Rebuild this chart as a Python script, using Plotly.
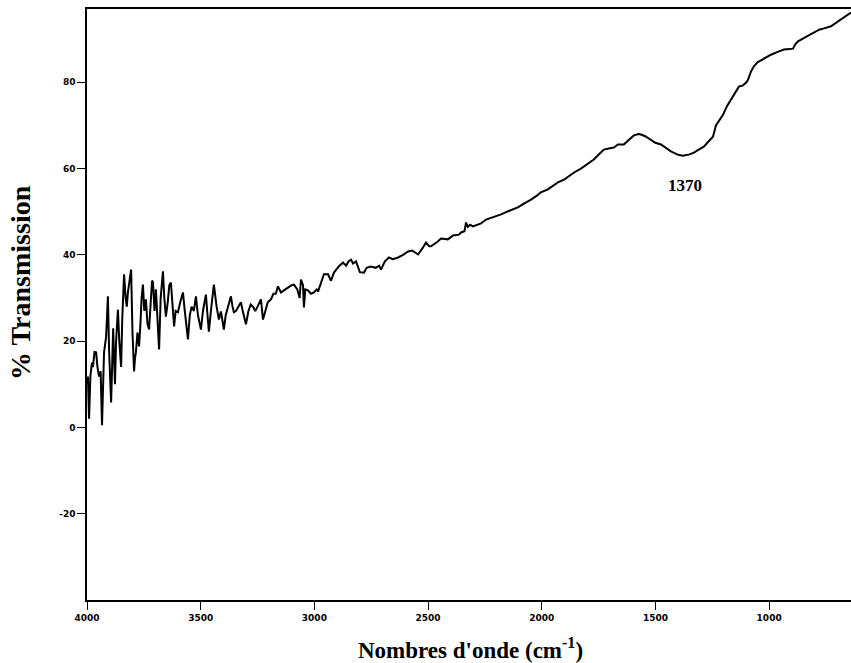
import plotly.graph_objects as go

wavenumber = [4000, 3996, 3991, 3985, 3978, 3974, 3967, 3960, 3954, 3947, 3940, 3934, 3928, 3925,
              3916, 3912, 3908, 3903, 3899, 3894, 3889, 3885, 3881, 3877, 3872, 3868, 3864, 3858,
              3854, 3850, 3845, 3841, 3837, 3830, 3825, 3820, 3813, 3806, 3800, 3793, 3789, 3785,
              3778, 3771, 3765, 3760, 3754, 3748, 3741, 3734, 3727, 3720, 3714, 3710, 3703, 3697,
              3690, 3683, 3676, 3666, 3660, 3653, 3645, 3638, 3631, 3624, 3617, 3610, 3600, 3590,
              3578, 3570, 3563, 3556, 3548, 3540, 3530, 3521, 3512, 3505, 3499, 3490, 3477, 3470,
              3464, 3455, 3442, 3430, 3420, 3411, 3398, 3390, 3380, 3367, 3360, 3354, 3345, 3335,
              3323, 3315, 3310, 3301, 3290, 3280, 3270, 3260, 3250, 3242, 3235, 3226, 3215, 3205,
              3191, 3180, 3170, 3160, 3147, 3130, 3116, 3100, 3090, 3075, 3065, 3059, 3050, 3046,
              3040, 3028, 3015, 3002, 2990, 2984, 2971, 2958, 2940, 2927, 2914, 2900, 2890, 2874,
              2860, 2850, 2839, 2830, 2817, 2800, 2782, 2770, 2751, 2730, 2715, 2707, 2690, 2672,
              2655, 2632, 2610, 2588, 2570, 2555, 2544, 2525, 2509, 2495, 2487, 2460, 2443, 2413,
              2390, 2364, 2355, 2340, 2333, 2325, 2315, 2303, 2280, 2267, 2245, 2210, 2179, 2140,
              2105, 2075, 2047, 2020, 2004, 1973, 1950, 1929, 1900, 1858, 1828, 1800, 1771, 1745,
              1727, 1700, 1683, 1665, 1639, 1620, 1595, 1575, 1564, 1545, 1520, 1500, 1476, 1450,
              1432, 1400, 1379, 1350, 1331, 1310, 1287, 1265, 1247, 1234, 1215, 1203, 1185, 1168,
              1150, 1133, 1115, 1100, 1093, 1080, 1067, 1050, 1036, 1010, 992, 965, 935, 910,
              895, 885, 873, 840, 803, 780, 759, 740, 728, 700, 675, 655, 640]

transmission = [10, 11.8, 2, 12, 15, 14, 17.5, 17.4, 14, 11.8, 13, 0.5, 12, 17.4,
                21, 25, 30.4, 18, 12, 5.8, 15, 23, 16.5, 10, 20, 25, 27.3, 20,
                17, 14, 25, 33, 35.5, 30, 28, 31.3, 34, 36.6, 22, 13, 16, 17.4,
                22, 18.8, 24, 30, 33.1, 27, 29.7, 24, 22.7, 28, 34, 33.8, 27, 32,
                24, 18.1, 30, 36.2, 30, 25.7, 29, 33, 33.6, 27, 23.4, 27, 26.7, 29,
                31.3, 27, 24, 20.4, 26, 28, 27, 30.4, 26, 24, 22.7, 27, 30.8, 26,
                22.2, 27, 33.1, 28, 25, 26.9, 22.7, 26, 28, 30.4, 28, 26.7, 27, 28,
                29, 27, 26, 23.9, 27, 28.5, 28, 27, 28, 29, 29.7, 25, 27, 29,
                29.7, 31, 31, 32.7, 31.3, 31.8, 32.4, 33, 33.1, 32, 30, 34.3, 33, 27.8,
                32, 31.8, 31, 31.3, 32, 31.5, 33.6, 35.5, 35.5, 34, 35.9, 37, 37.5, 38.2,
                37.5, 38.5, 38.9, 38, 38.5, 36, 35.9, 37, 37.3, 37, 37.5, 36.6, 38.5, 39.4,
                39, 39.4, 40, 40.8, 41, 40.5, 40.1, 41.5, 42.9, 42, 42, 43, 43.8, 43.6,
                44.5, 44.7, 45.2, 45.5, 47.5, 46.5, 47, 46.6, 47, 47.3, 48.2, 48.8, 49.4, 50.3,
                51, 52, 52.8, 53.8, 54.5, 55.2, 56, 56.8, 57.5, 59.1, 60, 61, 62.1, 63.5,
                64.4, 64.7, 64.9, 65.6, 65.6, 66.5, 67.7, 68, 67.9, 67.5, 66.7, 66, 65.6, 64.6,
                64, 63.2, 63, 63.3, 63.7, 64.4, 65.1, 66.4, 67.4, 70, 71.5, 72.5, 74.5, 76,
                77.8, 79, 79.3, 80, 80.6, 82.5, 83.7, 84.7, 85.1, 85.9, 86.4, 87, 87.6, 87.7,
                87.8, 88.8, 89.5, 90.5, 91.5, 92.2, 92.5, 92.7, 93, 94, 95, 95.6, 96.2]

x_ticks = [4000, 3500, 3000, 2500, 2000, 1500, 1000]
x_tick_labels = ["4000", "3500", "3000", "2500", "2000", "1500", "1000"]
y_ticks = [-20, 0, 20, 40, 60, 80]
y_tick_labels = ["-20", "0", "20", "40", "60", "80"]

peak_label = "1370"
peak_x = 1370
peak_y = 56

fig = go.Figure()
fig.add_trace(go.Scatter(x=wavenumber, y=transmission, mode="lines",
                         line=dict(color="black", width=2), showlegend=False,
                         hoverinfo="skip"))

fig.add_annotation(x=peak_x, y=peak_y, text=peak_label, showarrow=False,
                   xanchor="center", yanchor="middle",
                   font=dict(family="Liberation Serif", size=17, color="black", weight="bold"))

fig.add_annotation(xref="paper", yref="paper", x=(470 - 87) / 764, y=-(648 - 600) / 591,
                   xanchor="center", yanchor="middle",
                   text="Nombres d'onde (cm<sup>-1</sup>)", showarrow=False,
                   font=dict(family="Liberation Serif", size=23, color="black", weight="bold"))
fig.add_annotation(xref="paper", yref="paper", x=-(87 - 20) / 764, y=(600 - 283) / 591,
                   xanchor="center", yanchor="middle",
                   text="% Transmission", showarrow=False, textangle=-90,
                   font=dict(family="Liberation Serif", size=28, color="black", weight="bold"))

fig.update_layout(
    width=851, height=663,
    margin=dict(l=87, r=0, t=9, b=63),
    paper_bgcolor="white", plot_bgcolor="white",
    xaxis=dict(range=[4000, 640], tickvals=x_ticks, ticktext=x_tick_labels,
               showgrid=False, zeroline=False, showline=True, linecolor="black", linewidth=1.5,
               mirror=True, ticks="outside", ticklen=8, tickcolor="black", tickwidth=1,
               tickfont=dict(family="DejaVu Sans", size=9, color="black", weight="bold")),
    yaxis=dict(range=[-40, 97], tickvals=y_ticks, ticktext=y_tick_labels,
               showgrid=False, zeroline=False, showline=True, linecolor="black", linewidth=1.5,
               ticks="outside", ticklen=8, tickcolor="black", tickwidth=1,
               tickfont=dict(family="DejaVu Sans", size=9, color="black", weight="bold")),
)

fig.write_html("out.html", config={"displayModeBar": False},
               post_script="document.body.style.margin='0';document.body.style.overflow='hidden';")
